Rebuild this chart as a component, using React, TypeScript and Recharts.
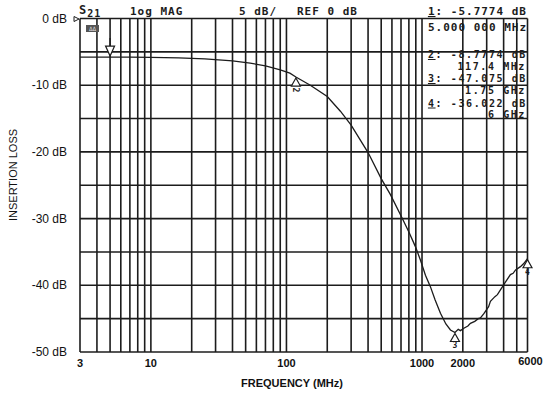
import { LineChart, Line, XAxis, YAxis, ReferenceLine, ReferenceDot, Label } from "recharts";

// S21 insertion loss trace
const freqMHz = [
  3, 4, 5, 7, 10, 16, 25, 40, 54, 70, 90, 106, 117.4, 150, 200, 250, 300, 350, 400,
  500, 585, 713, 800, 894, 973, 1060, 1153, 1250, 1368, 1500, 1621, 1750, 1850, 1920,
  2050, 2180, 2276, 2450, 2600, 2697, 2850, 2936, 3100, 3196, 3450, 3600, 3789, 4100,
  4490, 4700, 4900, 5322, 5650, 6000,
];
const lossDb = [
  -5.78, -5.78, -5.78, -5.8, -5.82, -5.9, -6.05, -6.35, -6.7, -7.1, -7.7, -8.2, -8.78,
  -10.0, -11.7, -13.9, -16.0, -18.2, -20.1, -24.0, -26.4, -29.9, -32.0, -34.2, -36.2,
  -38.5, -40.2, -42.2, -44.2, -45.8, -46.7, -47.08, -46.6, -46.8, -46.4, -46.1, -45.7,
  -45.4, -45.0, -44.9, -44.3, -43.9, -43.2, -42.4, -41.7, -41.4, -40.7, -39.6, -38.4,
  -38.2, -37.7, -37.2, -36.7, -36.02,
];

const gridFreqs = [
  3, 4, 5, 6, 7, 8, 9, 10, 20, 30, 40, 50, 60, 70, 80, 90, 100, 200, 300, 400, 500, 600,
  700, 800, 900, 1000, 2000, 3000, 4000, 5000, 6000,
];
const gridDb = [0, -5, -10, -15, -20, -25, -30, -35, -40, -45, -50];
const xTickLabels = [3, 10, 100, 1000, 2000, 6000];
const yTickLabels = [0, -10, -20, -30, -40, -50];

const markerIds = [1, 2, 3, 4];
const markerFreqs = [5, 117.4, 1750, 6000];
const markerDb = [-5.7774, -8.7774, -47.075, -36.022];
const markerFreqText = ["5.000 000 MHz", "117.4 MHz", "1.75 GHz", "6 GHz"];

const data = freqMHz.map((f, i) => ({ f, db: lossDb[i] }));

const INK = "#1c1c1c";
const PLOT_FONT = "'DejaVu Sans Mono', monospace";
const LABEL_FONT = "'Liberation Sans', Arial, sans-serif";

function MarkerShape(props: any) {
  const { cx, cy, id } = props;
  if (cx == null || cy == null) return null;
  if (id === 1) {
    // inverted triangle sitting on the trace with a stem above
    return (
      <g stroke={INK} fill="#fff" strokeWidth={1.2}>
        <line x1={cx} y1={cy - 19} x2={cx} y2={cy - 11} />
        <polygon points={`${cx - 4.5},${cy - 11} ${cx + 4.5},${cy - 11} ${cx},${cy - 1}`} />
      </g>
    );
  }
  return (
    <g>
      <polygon
        points={`${cx},${cy + 1} ${cx - 4.5},${cy + 9} ${cx + 4.5},${cy + 9}`}
        fill="#fff"
        stroke={INK}
        strokeWidth={1.2}
      />
      <text
        x={cx}
        y={cy + 16}
        textAnchor="middle"
        fontFamily={PLOT_FONT}
        fontSize={8}
        fontWeight="bold"
        fill={INK}
        transform={id === 2 ? `rotate(90 ${cx} ${cy + 13})` : undefined}
      >
        {id}
      </text>
    </g>
  );
}

function XTick(props: any) {
  const { x, y, payload } = props;
  const last = payload.value === 6000;
  return (
    <text
      x={x + (last ? 3 : 0)}
      y={y + (last ? 5 : 7)}
      textAnchor="middle"
      fontFamily={LABEL_FONT}
      fontSize={11}
      fontWeight="bold"
      fill="#111"
    >
      {payload.value}
    </text>
  );
}

function YTick(props: any) {
  const { x, y, payload } = props;
  return (
    <text x={x} y={y + 4} textAnchor="end" fontFamily={LABEL_FONT} fontSize={12} fill="#111">
      {`${payload.value} dB`}
    </text>
  );
}

const readoutStyle = {
  fontFamily: PLOT_FONT,
  fontSize: 11,
  fontWeight: "bold" as const,
  letterSpacing: 1,
  fill: INK,
};

const smallReadout = { ...readoutStyle, fontSize: 10, letterSpacing: 1.6 };

export default function App() {
  return (
    <div style={{ position: "relative", width: 552, height: 396, background: "#fff" }}>
      <style>{"body{margin:0}"}</style>
      <LineChart
        width={552}
        height={396}
        data={data}
        margin={{ top: 18.5, right: 24.5, bottom: 14, left: 0 }}
      >
        <XAxis
          dataKey="f"
          type="number"
          scale="log"
          domain={[3, 6000]}
          ticks={xTickLabels}
          tick={<XTick />}
          axisLine={false}
          tickLine={false}
          height={30}
          allowDataOverflow
        >
          <Label
            content={() => (
              <text
                x={292}
                y={387}
                textAnchor="middle"
                fontFamily={LABEL_FONT}
                fontSize={11}
                fontWeight="bold"
                fill="#111"
              >
                FREQUENCY (MHz)
              </text>
            )}
          />
        </XAxis>
        <YAxis
          type="number"
          domain={[-50, 0]}
          ticks={yTickLabels}
          tick={<YTick />}
          axisLine={false}
          tickLine={false}
          tickSize={0}
          tickMargin={13}
          width={80}
        >
          <Label
            content={() => (
              <text
                x={17}
                y={175}
                textAnchor="middle"
                fontFamily={LABEL_FONT}
                fontSize={11}
                fill="#111"
                transform="rotate(-90 17 175)"
              >
                INSERTION LOSS
              </text>
            )}
          />
        </YAxis>
        {gridDb.map((v) => (
          <ReferenceLine key={`h${v}`} y={v} stroke={INK} strokeWidth={1.6} />
        ))}
        {gridFreqs.map((v) => (
          <ReferenceLine key={`v${v}`} x={v} stroke={INK} strokeWidth={1.6} />
        ))}
        <Line
          type="linear"
          dataKey="db"
          stroke={INK}
          strokeWidth={1.3}
          dot={false}
          isAnimationActive={false}
        />
        {markerIds.map((id, i) => (
          <ReferenceDot
            key={`m${id}`}
            x={markerFreqs[i]}
            y={markerDb[i]}
            r={0}
            shape={(p: any) => <MarkerShape {...p} id={id} />}
          />
        ))}
      </LineChart>

      {/* analyzer header and marker readouts */}
      <svg
        width={552}
        height={396}
        style={{ position: "absolute", left: 0, top: 0, pointerEvents: "none" }}
      >
        <polygon points="74,16.5 79,19 74,21.5" fill="#fff" stroke={INK} strokeWidth={1} />
        <text x={79} y={14} {...readoutStyle} fontSize={12}>
          S<tspan dy={3} fontSize={10}>21</tspan>
        </text>
        <text x={130} y={15} {...readoutStyle}>1og MAG</text>
        <text x={239} y={15} {...readoutStyle}>5 dB/</text>
        <text x={297} y={15} {...readoutStyle}>REF 0 dB</text>
        <text x={527} y={15} textAnchor="end" {...readoutStyle}>
          <tspan textDecoration="underline">{markerIds[0]}</tspan>
          {`: ${markerDb[0]} dB`}
        </text>
        <text x={527} y={31} textAnchor="end" {...readoutStyle}>{markerFreqText[0]}</text>

        <rect x={86} y={25} width={13} height={7} fill="#555" />
        <text x={92.5} y={31} textAnchor="middle" fontFamily={PLOT_FONT} fontSize={6} fill="#ddd">
          ΔΔ
        </text>

        {markerIds.slice(1).map((id, k) => {
          const i = k + 1;
          const base = [58, 82, 106.5][k];
          return (
            <g key={`r${id}`}>
              <text x={527} y={base} textAnchor="end" {...smallReadout}>
                <tspan textDecoration="underline">{id}</tspan>
                {`: ${markerDb[i]} dB`}
              </text>
              <text x={526} y={base + 11.5} textAnchor="end" {...smallReadout}>
                {markerFreqText[i]}
              </text>
            </g>
          );
        })}
      </svg>
    </div>
  );
}
